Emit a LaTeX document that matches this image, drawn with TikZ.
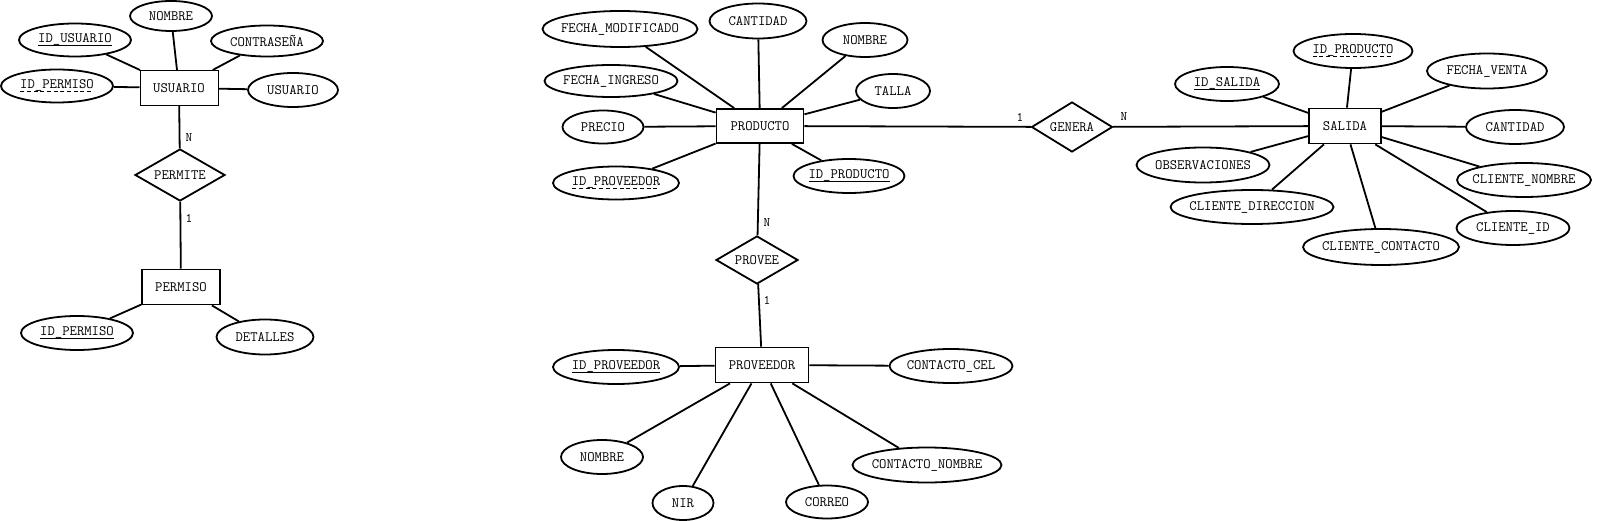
\documentclass[tikz,border=0pt]{standalone}
\usepackage{fontspec}
\usetikzlibrary{shapes.geometric}
\newsavebox\ulbox
\newcommand\zw[1]{\makebox[0pt]{#1}}
\newcommand\ulsolid[1]{\sbox\ulbox{#1}\rlap{\raisebox{-3.6pt}{\rule{\wd\ulbox}{1.6pt}}}\usebox\ulbox}
\newcommand\uldash[1]{\sbox\ulbox{#1}\rlap{\raisebox{-3.6pt}{\hbox to \wd\ulbox{\xleaders\hbox to 6.5pt{\rule{4pt}{1.6pt}\hss}\hfill}}}\usebox\ulbox}
\begin{document}
\begin{tikzpicture}[x=1pt,y=-1pt,line width=1.8pt,
  font=\ttfamily\fontsize{14.3}{16}\selectfont,
  ent/.style={draw,rectangle,inner sep=0pt},
  attr/.style={draw,ellipse,inner sep=0pt},
  rel/.style={draw,diamond,aspect=1.75,inner sep=0pt},
  card/.style={inner sep=0pt,font=\ttfamily\fontsize{13}{15}\selectfont}]
\fill[white] (0,0) rectangle (1600,521);
\useasboundingbox (0,0) rectangle (1600,521);

% ---------- USUARIO / PERMISO ----------
\node[ent,line width=1pt,minimum width=78pt,minimum height=35pt] (usuario) at (179,88) {USUARIO};
\node[attr,minimum width=82pt,minimum height=30pt] (u_nombre) at (171,16) {\zw{NOMBRE}};
\node[attr,minimum width=112pt,minimum height=33pt] (u_id) at (75,40) {\zw{\ulsolid{ID\_USUARIO}}};
\node[attr,minimum width=112pt,minimum height=31pt] (u_contra) at (267,41) {\zw{CONTRASEÑA}};
\node[attr,minimum width=112pt,minimum height=33pt] (u_idperm) at (57,86) {\zw{\uldash{ID\_PERMISO}}};
\node[attr,minimum width=90pt,minimum height=34pt] (u_usuario) at (293,90) {\zw{USUARIO}};
\node[rel,minimum width=90pt,minimum height=52pt] (permite) at (180,175) {PERMITE};
\node[ent,minimum width=78pt,minimum height=35pt] (permiso) at (181,287) {PERMISO};
\node[attr,minimum width=112pt,minimum height=34pt] (p_id) at (77,333) {\zw{\ulsolid{ID\_PERMISO}}};
\node[attr,minimum width=97pt,minimum height=35pt] (p_det) at (265,337) {\zw{DETALLES}};
\node[card] (c_un) at (189,138) {N};
\node[card] (c_p1) at (189,218) {1};

\draw (usuario) -- (u_nombre);
\draw (usuario) -- (u_id);
\draw (usuario) -- (u_contra);
\draw (usuario) -- (u_idperm);
\draw (usuario) -- (u_usuario);
\draw (usuario) -- (permite);
\draw (permite) -- (permiso);
\draw (permiso) -- (p_id);
\draw (permiso) -- (p_det);

% ---------- PRODUCTO ----------
\node[ent,minimum width=87pt,minimum height=34pt] (producto) at (760,126) {PRODUCTO};
\node[attr,minimum width=155pt,minimum height=36pt] (pr_fmod) at (620,29) {\zw{FECHA\_MODIFICADO}};
\node[attr,minimum width=97pt,minimum height=35pt] (pr_cant) at (758,21) {\zw{CANTIDAD}};
\node[attr,minimum width=85pt,minimum height=34pt] (pr_nom) at (865,40) {\zw{NOMBRE}};
\node[attr,minimum width=133pt,minimum height=32pt] (pr_fing) at (611,81) {\zw{FECHA\_INGRESO}};
\node[attr,minimum width=74pt,minimum height=34pt] (pr_talla) at (893,91) {\zw{TALLA}};
\node[attr,minimum width=81pt,minimum height=33pt] (pr_precio) at (603,127) {\zw{PRECIO}};
\node[attr,minimum width=126pt,minimum height=33pt] (pr_idprov) at (616,183) {\zw{\uldash{ID\_PROVEEDOR}}};
\node[attr,minimum width=111pt,minimum height=34pt] (pr_id) at (849,176) {\zw{\ulsolid{ID\_PRODUCTO}}};

\draw (producto) -- (pr_fmod);
\draw (producto) -- (pr_cant);
\draw (producto) -- (pr_nom);
\draw (producto) -- (pr_fing);
\draw (producto) -- (pr_talla);
\draw (producto) -- (pr_precio);
\draw (producto) -- (pr_idprov);
\draw (producto) -- (pr_id);

% ---------- PROVEEDOR ----------
\node[rel,minimum width=82pt,minimum height=48pt] (provee) at (757,260) {PROVEE};
\node[ent,minimum width=93pt,minimum height=35pt] (proveedor) at (762,365) {PROVEEDOR};
\node[attr,minimum width=126pt,minimum height=34pt] (pv_id) at (616,367) {\zw{\ulsolid{ID\_PROVEEDOR}}};
\node[attr,minimum width=123pt,minimum height=34pt] (pv_cel) at (951,366) {\zw{CONTACTO\_CEL}};
\node[attr,minimum width=82pt,minimum height=34pt] (pv_nom) at (602,457) {\zw{NOMBRE}};
\node[attr,minimum width=61pt,minimum height=34pt] (pv_nir) at (683,503) {\zw{NIR}};
\node[attr,minimum width=82pt,minimum height=33pt] (pv_correo) at (827,502) {\zw{CORREO}};
\node[attr,minimum width=149pt,minimum height=35pt] (pv_cnom) at (927,465) {\zw{CONTACTO\_NOMBRE}};
\node[card] (c_pn) at (767,223) {N};
\node[card] (c_v1) at (767,300) {1};

\draw (producto) -- (provee);
\draw (provee) -- (proveedor);
\draw (proveedor) -- (pv_id);
\draw (proveedor) -- (pv_cel);
\draw (proveedor) -- (pv_nom);
\draw (proveedor) -- (pv_nir);
\draw (proveedor) -- (pv_correo);
\draw (proveedor) -- (pv_cnom);

% ---------- SALIDA ----------
\node[rel,minimum width=81pt,minimum height=50pt] (genera) at (1072,127) {GENERA};
\node[ent,minimum width=72pt,minimum height=35pt] (salida) at (1345,126) {SALIDA};
\node[attr,minimum width=104pt,minimum height=34pt] (s_id) at (1227,84) {\zw{\ulsolid{ID\_SALIDA}}};
\node[attr,minimum width=119pt,minimum height=34pt] (s_idprod) at (1353,51) {\zw{\uldash{ID\_PRODUCTO}}};
\node[attr,minimum width=120pt,minimum height=35pt] (s_fventa) at (1487,71) {\zw{FECHA\_VENTA}};
\node[attr,minimum width=98pt,minimum height=34pt] (s_cant) at (1515,127) {\zw{CANTIDAD}};
\node[attr,minimum width=133pt,minimum height=35pt] (s_obs) at (1203,165) {\zw{OBSERVACIONES}};
\node[attr,minimum width=163pt,minimum height=34pt] (s_cdir) at (1252,207) {\zw{CLIENTE\_DIRECCION}};
\node[attr,minimum width=156pt,minimum height=36pt] (s_ccont) at (1381,247) {\zw{CLIENTE\_CONTACTO}};
\node[attr,minimum width=134pt,minimum height=34pt] (s_cnom) at (1524,180) {\zw{CLIENTE\_NOMBRE}};
\node[attr,minimum width=113pt,minimum height=34pt] (s_cid) at (1513,228) {\zw{CLIENTE\_ID}};
\node[card] (c_g1) at (1020,117) {1};
\node[card] (c_gn) at (1124,117) {N};

\draw (producto) -- (genera);
\draw (genera) -- (salida);
\draw (salida) -- (s_id);
\draw (salida) -- (s_idprod);
\draw (salida) -- (s_fventa);
\draw (salida) -- (s_cant);
\draw (salida) -- (s_obs);
\draw (salida) -- (s_cdir);
\draw (salida) -- (s_ccont);
\draw (salida) -- (s_cnom);
\draw (salida) -- (s_cid);
\end{tikzpicture}
\end{document}
